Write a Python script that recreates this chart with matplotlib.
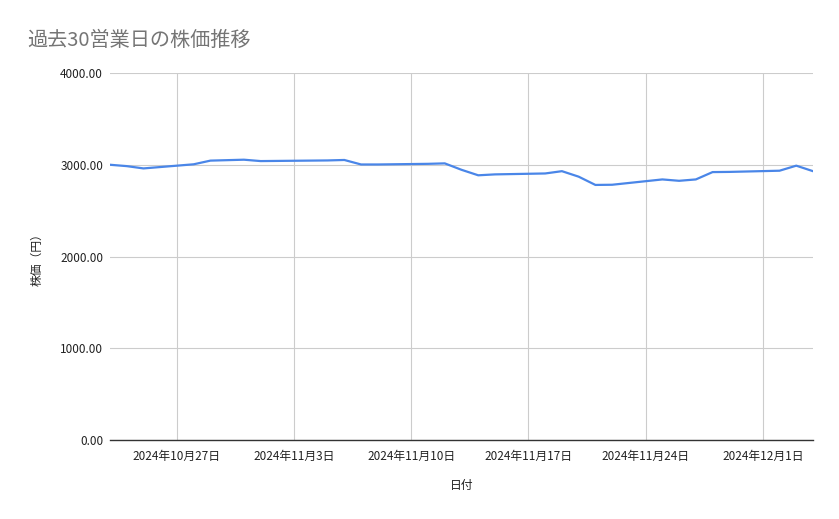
import numpy as np
import pandas as pd
import matplotlib
matplotlib.use("Agg")
import matplotlib.pyplot as plt
import matplotlib.dates as mdates
from matplotlib.ticker import FuncFormatter

plt.rcParams['font.family'] = ['Noto Sans CJK JP', 'DejaVu Sans']

# 30 business days (Japan), Nov 4 holiday
dates = pd.to_datetime([
    "2024-10-23", "2024-10-24", "2024-10-25",
    "2024-10-28", "2024-10-29", "2024-10-30", "2024-10-31", "2024-11-01",
    "2024-11-05", "2024-11-06", "2024-11-07", "2024-11-08",
    "2024-11-11", "2024-11-12", "2024-11-13", "2024-11-14", "2024-11-15",
    "2024-11-18", "2024-11-19", "2024-11-20", "2024-11-21", "2024-11-22",
    "2024-11-25", "2024-11-26", "2024-11-27", "2024-11-28", "2024-11-29",
    "2024-12-02", "2024-12-03", "2024-12-04",
])
prices = [
    3000, 2985, 2960,
    3005, 3045, 3050, 3055, 3040,
    3047, 3052, 3003, 3003,
    3010, 3015, 2945, 2885, 2895,
    2905, 2930, 2870, 2780, 2782,
    2840, 2825, 2840, 2920, 2922,
    2935, 2990, 2930,
]
tick_dates = pd.to_datetime(["2024-10-27", "2024-11-03", "2024-11-10",
                             "2024-11-17", "2024-11-24", "2024-12-01"])
y_ticks = [0, 1000, 2000, 3000, 4000]

title = "過去30営業日の株価推移"
x_label = "日付"
y_label = "株価（円）"


def date_label(v, pos):
    d = mdates.num2date(v)
    return f"{d.year}年{d.month}月{d.day}日"


fig = plt.figure(figsize=(8.39, 5.19), dpi=100)
ax = fig.add_axes([110 / 839, 1 - 440 / 519, (813 - 110) / 839, (440 - 73) / 519])

ax.plot(dates, prices, color="#4a86e8", linewidth=1.6, solid_joinstyle="round")

ax.set_xlim(pd.Timestamp("2024-10-23"), pd.Timestamp("2024-12-04"))
ax.set_ylim(0, 4000)
ax.set_yticks(y_ticks)
ax.yaxis.set_major_formatter(FuncFormatter(lambda v, p: f"{v:.2f}"))
ax.set_xticks(tick_dates)
ax.xaxis.set_major_formatter(FuncFormatter(date_label))

ax.grid(True, color="#cccccc", linewidth=0.8)
ax.set_axisbelow(True)
for s in ["top", "right", "left"]:
    ax.spines[s].set_visible(False)
ax.spines["bottom"].set_color("#333333")
ax.spines["bottom"].set_linewidth(1.0)
ax.spines["bottom"].set_zorder(3)
ax.tick_params(axis="both", length=0, labelsize=8.5, colors="#222222")
ax.tick_params(axis="x", pad=7)
ax.tick_params(axis="y", pad=5)

ax.set_xlabel(x_label, fontsize=8.5, color="#222222", labelpad=12)
ax.set_ylabel(y_label, fontsize=8.5, color="#222222", labelpad=12)

fig.text(27 / 839, 1 - 40 / 519, title, fontsize=14.5, color="#757575",
         va="center", ha="left")

fig.savefig("out.png", dpi=100)
